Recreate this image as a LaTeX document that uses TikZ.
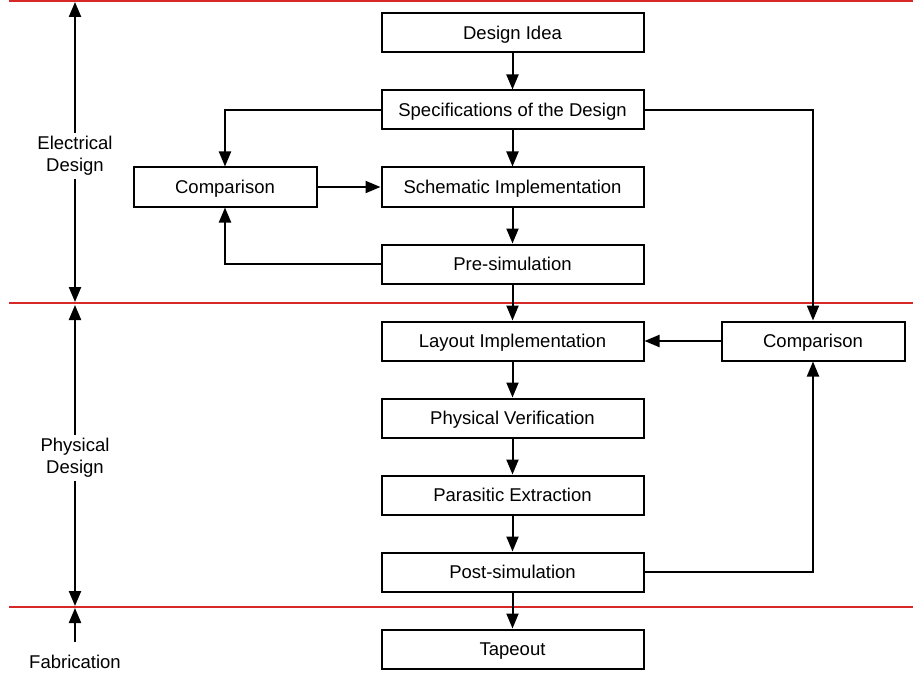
\documentclass[tikz,border=0pt]{standalone}
\usepackage{fontspec}
\setmainfont{Liberation Sans}
\usetikzlibrary{positioning, arrows.meta}
\definecolor{sepred}{RGB}{215,40,40}

\begin{document}
\begin{tikzpicture}[x=1pt, y=-1pt,
            font=\fontsize{18.5}{22}\selectfont,
            node distance=36pt,
            stage/.style={draw=black, line width=2pt, rectangle, minimum width=262pt, minimum height=39pt, text height=13pt, text depth=0pt},
            cmpbox/.style={stage, minimum width=183pt},
            flow/.style={line width=2pt, -{Triangle[length=15pt, width=12pt]}},
            span/.style={line width=2.2pt, {Triangle[length=15pt, width=12pt]}-{Triangle[length=15pt, width=12pt]}},
            sep/.style={draw=sepred, line width=1.2pt},
            phase/.style={align=center, fill=white, inner sep=3pt}
        ]

        \useasboundingbox (0,0) rectangle (913,674);

        % Trennlinien
        \foreach \y in {1,303,607}
            \draw[sep] (9,\y) -- (913,\y);

        % Knoten
        \node[stage] (idea) at (512.5,33) {Design Idea};
        \node[stage, below=of idea] (spec) {Specifications of the Design};
        \node[stage, below=of spec] (schem) {Schematic Implementation};
        \node[stage, below=of schem] (presim) {Pre-simulation};
        \node[stage, below=of presim] (layout) {Layout Implementation};
        \node[stage, below=of layout] (verif) {Physical Verification};
        \node[stage, below=of verif] (extr) {Parasitic Extraction};
        \node[stage, below=of extr] (postsim) {Post-simulation};
        \node[stage, below=of postsim] (tape) {Tapeout};

        \node[cmpbox, left=63pt of schem] (cmpl) {Comparison};
        \node[cmpbox, right=76pt of layout] (cmpr) {Comparison};

        % Kanten
        \draw[flow] (idea) -- (spec);
        \draw[flow] (spec) -- (schem);
        \draw[flow] (schem) -- (presim);
        \draw[flow] (presim) -- (layout);
        \draw[flow] (layout) -- (verif);
        \draw[flow] (verif) -- (extr);
        \draw[flow] (extr) -- (postsim);
        \draw[flow] (postsim) -- (tape);

        \draw[flow] (spec.west) -| (cmpl.north);
        \draw[flow] (presim.west) -| (cmpl.south);
        \draw[flow] (cmpl) -- (schem);
        \draw[flow] (spec.east) -| (cmpr.north);
        \draw[flow] (postsim.east) -| (cmpr.south);
        \draw[flow] (cmpr) -- (layout);

        % Phasen
        \coordinate (etop) at (75,2);
        \coordinate (ebot) at (75,302);
        \coordinate (ptop) at (75,305);
        \coordinate (pbot) at (75,606);
        \coordinate (fbot) at (75,642);
        \coordinate (ftop) at (75,608);

        \draw[span] (etop) -- (ebot);
        \draw[span] (ptop) -- (pbot);
        \draw[line width=2.2pt, -{Triangle[length=15pt, width=12pt]}] (fbot) -- (ftop);

        \node[phase] (elec) at (75,156) {Electrical\\Design};
        \node[phase] (phys) at (75,458) {Physical\\Design};
        \node[phase, text height=13pt, text depth=0pt] (fab) at (75,662) {Fabrication};

    \end{tikzpicture}
\end{document}
